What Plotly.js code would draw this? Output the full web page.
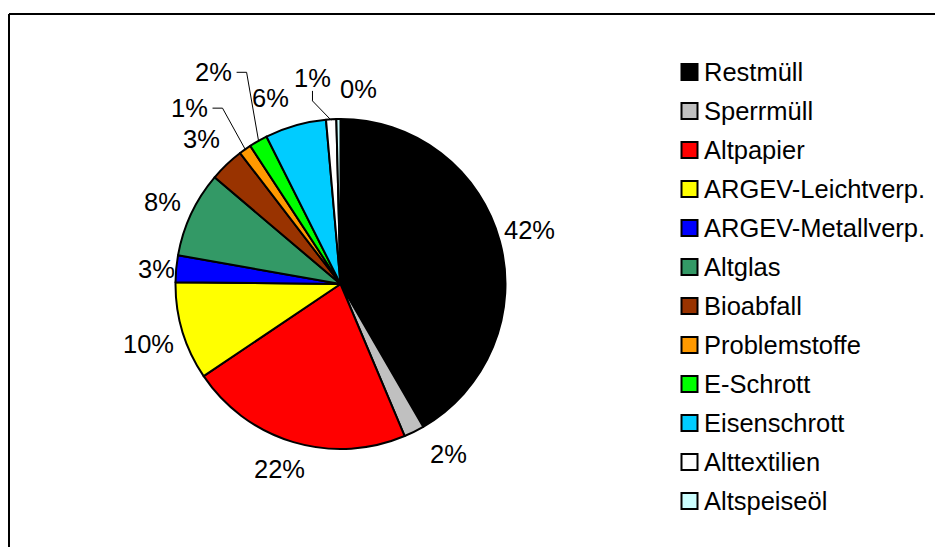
<!DOCTYPE html>
<html>
<head>
<meta charset="utf-8">
<script src="https://cdn.plot.ly/plotly-3.0.1.min.js"></script>
<style>html,body{margin:0;padding:0;background:#fff;}#chart{width:935px;height:547px;}</style>
</head>
<body>
<div id="chart"></div>
<script>
// ---- data ----
const categories = ["Restmüll","Sperrmüll","Altpapier","ARGEV-Leichtverp.","ARGEV-Metallverp.","Altglas","Bioabfall","Problemstoffe","E-Schrott","Eisenschrott","Alttextilien","Altspeiseöl"];
const shares = [41.6, 2.0, 21.9, 9.6, 2.6, 8.4, 3.4, 1.2, 1.8, 6.0, 1.0, 0.4];
const sliceColors = ["#000000","#C0C0C0","#FF0000","#FFFF00","#0000FF","#339966","#993300","#FF9900","#00FF00","#00CCFF","#FFFFFF","#CCFFFF"];

// ---- layout / style settings (not data) ----
const W = 935, H = 547;
const cx = 340.5, cy = 284, r = 165;
const FONT = 'Liberation Sans, Arial, sans-serif';
const FS = 25.5;
// label placement: radial distance from centre (px) and angular nudge (deg) per slice
const labelRadius = [197, 201, 195, 201, 185, 196, 201, 232, 247, 199, 208, 196];
const labelNudge  = [-1, -6, 1.5, -0.7, -0.6, -0.5, -0.3, -5.4, -1.1, -4.8, -4.5, 5.9];
const leaderStyle = [null, null, null, null, null, null, null, 'h', 'h', null, 'v', null];

const px = x => x / W;
const py = y => 1 - y / H;

const total = shares.reduce((a, b) => a + b, 0);
const annotations = [];
const shapes = [];

// percentage labels, placed from each slice's mid angle
let cum = 0;
shares.forEach((v, i) => {
  const mid = (cum + v / 2) / total * 360;
  cum += v;
  const a = (mid + labelNudge[i]) * Math.PI / 180;
  const lx = cx + labelRadius[i] * Math.sin(a);
  const ly = cy - labelRadius[i] * Math.cos(a);
  const txt = Math.round(v / total * 100) + '%';
  annotations.push({
    x: px(lx), y: py(ly), xref: 'paper', yref: 'paper',
    xanchor: 'center', yanchor: 'middle', showarrow: false,
    text: txt, font: {family: FONT, size: FS, color: '#000'}
  });
  if (leaderStyle[i]) {
    const ma = mid * Math.PI / 180;
    const ex = cx + (r - 1) * Math.sin(ma);
    const ey = cy - (r - 1) * Math.cos(ma);
    const halfW = txt.length * FS * 0.36;
    let sx, sy, kx, ky;
    if (leaderStyle[i] === 'h') {
      sx = lx + halfW + 5; sy = ly; kx = sx + 10; ky = sy;
    } else {
      sx = lx; sy = ly + 13; kx = sx; ky = sy + 10;
    }
    const ln = {color: '#000', width: 1};
    shapes.push({type: 'line', xref: 'paper', yref: 'paper', x0: px(sx), y0: py(sy), x1: px(kx), y1: py(ky), line: ln});
    shapes.push({type: 'line', xref: 'paper', yref: 'paper', x0: px(kx), y0: py(ky), x1: px(ex), y1: py(ey), line: ln});
  }
});

// legend (drawn as boxes + text rows)
const legBoxX = 681.5, legBox = 16, legTextX = 702, legY0 = 72, legStep = 39;
categories.forEach((c, i) => {
  const yc = legY0 + i * legStep;
  shapes.push({type: 'rect', xref: 'paper', yref: 'paper',
    x0: px(legBoxX), x1: px(legBoxX + legBox), y0: py(yc - legBox / 2), y1: py(yc + legBox / 2),
    fillcolor: sliceColors[i], line: {color: '#000', width: 2}});
  annotations.push({x: px(legTextX), y: py(yc), xref: 'paper', yref: 'paper',
    xanchor: 'left', yanchor: 'middle', showarrow: false,
    text: c, font: {family: FONT, size: FS, color: '#000'}});
});

// chart frame
shapes.push({type: 'line', xref: 'paper', yref: 'paper', x0: px(9), x1: 1.01, y0: py(14), y1: py(14), line: {color: '#000', width: 2}});
shapes.push({type: 'line', xref: 'paper', yref: 'paper', x0: px(9), x1: px(9), y0: py(14), y1: -0.01, line: {color: '#000', width: 2}});

const trace = {
  type: 'pie',
  labels: categories,
  values: shares,
  sort: false,
  direction: 'clockwise',
  rotation: 0,
  marker: {colors: sliceColors, line: {color: '#000', width: 2}},
  textinfo: 'none',
  hoverinfo: 'label+percent',
  showlegend: false,
  domain: {x: [(cx - r) / W, (cx + r) / W], y: [(H - cy - r) / H, (H - cy + r) / H]}
};

const layout = {
  width: W, height: H,
  margin: {l: 0, r: 0, t: 0, b: 0},
  paper_bgcolor: '#fff',
  showlegend: false,
  annotations: annotations,
  shapes: shapes
};

Plotly.newPlot('chart', [trace], layout, {staticPlot: true});
</script>
</body>
</html>
